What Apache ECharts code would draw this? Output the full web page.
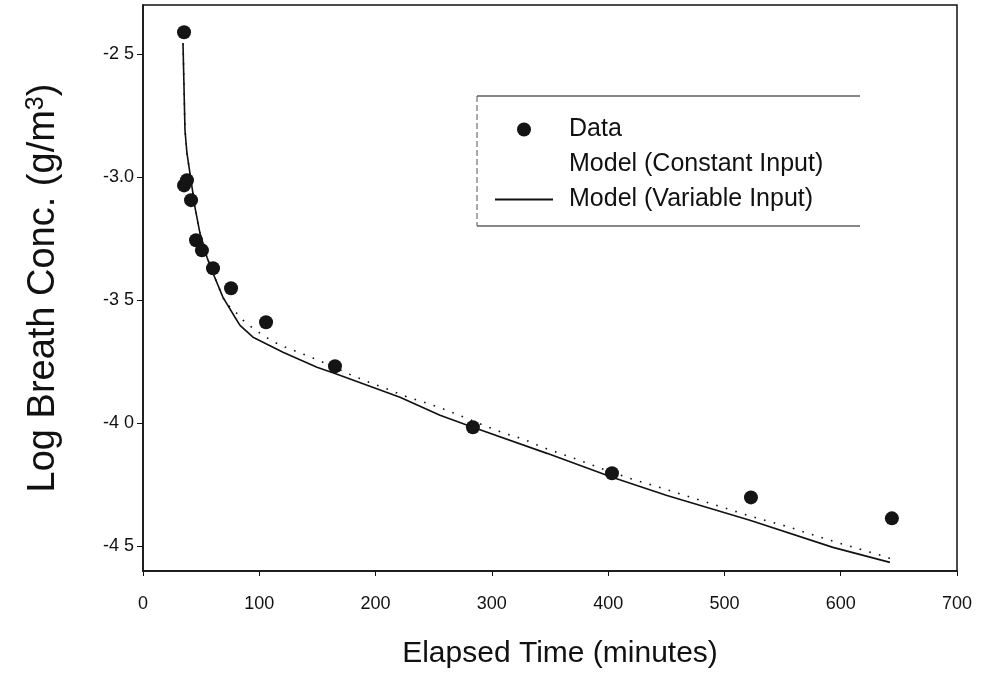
<!DOCTYPE html>
<html>
<head>
<meta charset="utf-8">
<script src="https://cdn.jsdelivr.net/npm/echarts@6/dist/echarts.min.js"></script>
<style>
html,body{margin:0;padding:0;background:#fff;}
#chart{width:981px;height:692px;}
</style>
</head>
<body>
<div id="chart"></div>
<script>
// Measured data (Elapsed time in minutes, log breath concentration)
var dataX = [35.3, 35.3, 37.8, 41.3, 45.6, 50.7, 60.2, 75.7, 105.8, 165.1, 283.7, 403.3, 522.8, 644.0];
var dataY = [-2.411, -3.033, -3.012, -3.093, -3.256, -3.297, -3.370, -3.451, -3.589, -3.768, -4.016, -4.203, -4.301, -4.386];

var variableX = [34.4, 36.1, 37.8, 40.4, 44.7, 49.0, 55.0, 60.2, 68.8, 79.1, 83.4, 94.6, 120.4, 149.6, 165.1, 221.0, 255.4, 283.7, 347.4, 404.1, 450.6, 521.9, 593.3, 642.3];
var variableY = [-2.455, -2.809, -2.902, -2.984, -3.122, -3.228, -3.325, -3.390, -3.488, -3.569, -3.602, -3.650, -3.711, -3.772, -3.797, -3.894, -3.967, -4.016, -4.122, -4.220, -4.293, -4.394, -4.504, -4.565];

var constantX = [34.4, 36.1, 37.8, 40.4, 44.7, 49.0, 55.0, 60.2, 70.5, 79.1, 86.0, 94.6, 103.2, 111.8, 120.4, 135.8, 153.0, 178.0, 194.3, 210.7, 227.9, 245.1, 261.4, 278.6, 294.9, 311.3, 327.6, 343.9, 361.1, 377.5, 393.8, 418.7, 452.3, 520.2, 553.7, 596.7, 638.0, 642.3];
var constantY = [-2.455, -2.809, -2.902, -2.984, -3.122, -3.228, -3.325, -3.390, -3.508, -3.545, -3.581, -3.614, -3.642, -3.667, -3.687, -3.715, -3.748, -3.801, -3.833, -3.862, -3.894, -3.919, -3.947, -3.980, -4.012, -4.041, -4.065, -4.098, -4.126, -4.154, -4.183, -4.224, -4.272, -4.374, -4.419, -4.484, -4.541, -4.549];

var yTickValues = [-4.5, -4.0, -3.5, -3.0, -2.5];
var yTickLabels = ['-4 5', '-4 0', '-3 5', '-3.0', '-2 5'];

var seriesNames = ['Data', 'Model (Constant Input)', 'Model (Variable Input)'];

function zip(xs, ys) { return xs.map(function (x, i) { return [x, ys[i]]; }); }

var ink = '#111';
var font = 'Liberation Sans, Arial, sans-serif';

var chart = echarts.init(document.getElementById('chart'), null, {renderer: 'canvas'});
chart.setOption({
  backgroundColor: '#fff',
  animation: false,
  grid: {left: 143, top: 5, width: 814, height: 566, show: true, borderColor: ink, borderWidth: 1.5, backgroundColor: 'transparent'},
  xAxis: {
    type: 'value', min: 0, max: 700, interval: 100,
    name: 'Elapsed Time (minutes)', nameLocation: 'middle', nameGap: 68,
    nameTextStyle: {fontFamily: font, fontSize: 30, color: ink, padding: [0, 0, 0, 20]},
    axisLine: {show: true, lineStyle: {color: ink, width: 1.5}},
    axisTick: {show: true, inside: false, length: 5, lineStyle: {color: ink}},
    axisLabel: {fontFamily: font, fontSize: 18, color: ink, margin: 24},
    splitLine: {show: false}
  },
  yAxis: {
    type: 'value', min: -4.6, max: -2.3,
    name: 'Log Breath Conc. (g/m{sup|3})', nameLocation: 'middle', nameGap: 80,
    nameTextStyle: {fontFamily: font, fontSize: 38, color: ink, padding: [0, 0, 0, 0],
      rich: {sup: {fontFamily: font, fontSize: 25, color: ink, verticalAlign: 'top', padding: [0, 0, 14, 0]}}},
    axisLine: {show: true, lineStyle: {color: ink, width: 1.5}},
    axisTick: {show: true, inside: false, length: 6, customValues: yTickValues, lineStyle: {color: ink}},
    axisLabel: {fontFamily: font, fontSize: 18, color: ink, margin: 9, customValues: yTickValues,
      formatter: function (v) {
        for (var i = 0; i < yTickValues.length; i++) { if (Math.abs(yTickValues[i] - v) < 1e-6) return yTickLabels[i]; }
        return '';
      }},
    splitLine: {show: false}
  },
  legend: {
    orient: 'vertical', left: 489, top: 107, itemGap: 0, itemWidth: 58, itemHeight: 14,
    textStyle: {fontFamily: font, fontSize: 25, color: ink, lineHeight: 35, padding: [0, 0, 0, 11]},
    data: [
      {name: seriesNames[0]},
      {name: seriesNames[1], itemStyle: {opacity: 0}, lineStyle: {opacity: 0}},
      {name: seriesNames[2], itemStyle: {opacity: 0}}
    ]
  },
  graphic: [
    {type: 'line', shape: {x1: 477, y1: 96, x2: 860, y2: 96}, style: {stroke: ink, lineWidth: 1.2}, z: 10},
    {type: 'line', shape: {x1: 477, y1: 226, x2: 860, y2: 226}, style: {stroke: ink, lineWidth: 1.2}, z: 10},
    {type: 'line', shape: {x1: 477, y1: 96, x2: 477, y2: 226}, style: {stroke: '#555', lineWidth: 1, lineDash: [6, 3]}, z: 10}
  ],
  series: [
    {
      name: seriesNames[1], type: 'line', data: zip(constantX, constantY), showSymbol: false, symbol: 'none',
      lineStyle: {color: ink, width: 1.6, type: [1.6, 8.4]}, itemStyle: {color: ink}, z: 2
    },
    {
      name: seriesNames[2], type: 'line', data: zip(variableX, variableY), showSymbol: false, symbol: 'none',
      lineStyle: {color: ink, width: 1.6}, itemStyle: {color: ink}, z: 3
    },
    {
      name: seriesNames[0], type: 'scatter', data: zip(dataX, dataY), symbol: 'circle', symbolSize: 14,
      itemStyle: {color: '#141414', opacity: 1}, z: 4
    }
  ]
});
</script>
</body>
</html>
